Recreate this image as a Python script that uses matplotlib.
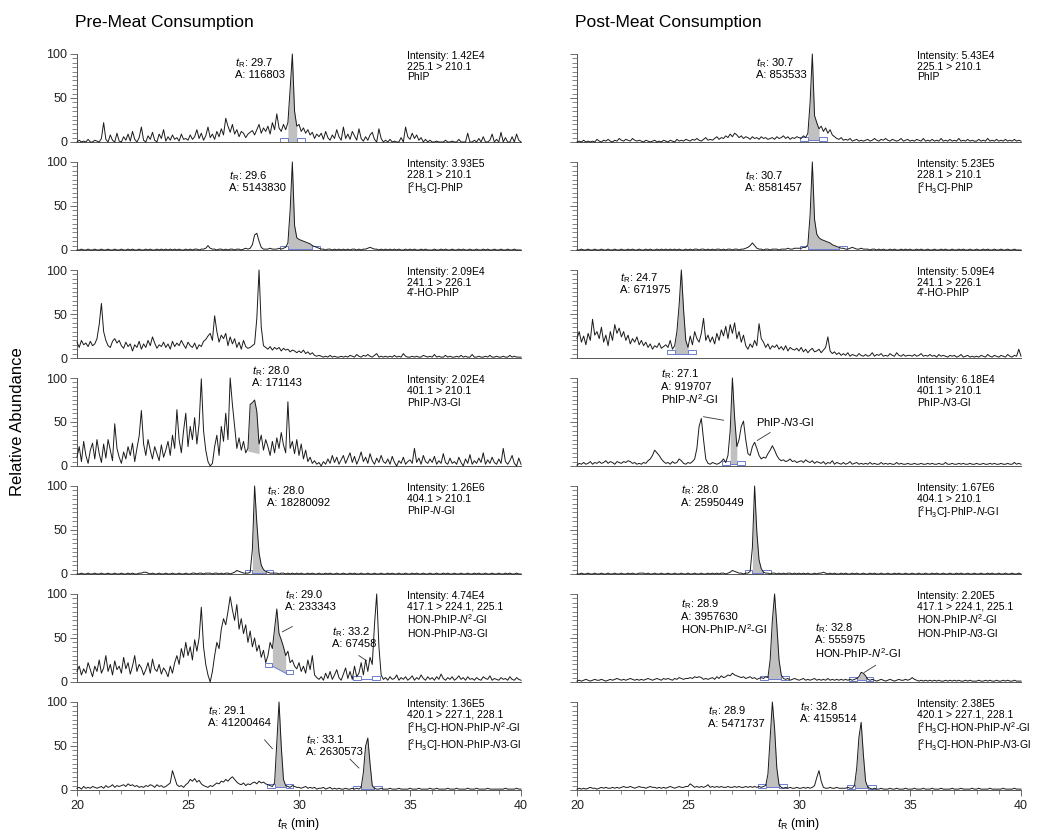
import matplotlib
matplotlib.use("Agg")
import matplotlib.pyplot as plt
import numpy as np
from matplotlib.patches import Rectangle
from matplotlib.ticker import MultipleLocator

plt.rcParams['font.family'] = ['Liberation Sans', 'DejaVu Sans']
plt.rcParams['mathtext.fontset'] = 'custom'
plt.rcParams['mathtext.rm'] = 'Liberation Sans'
plt.rcParams['mathtext.it'] = 'Liberation Sans:italic'
plt.rcParams['mathtext.bf'] = 'Liberation Sans:bold'

# relative abundance (%), one reading every 0.1 min from 20.0 to 40.0 min
pre_phip = [
    0, 2, 0, 1, 0, 3, 0, 0, 2, 1,
    0, 4, 22, 3, 0, 8, 2, 0, 10, 1,
    0, 6, 2, 9, 1, 12, 3, 0, 5, 17,
    2, 0, 7, 3, 11, 2, 0, 9, 4, 14,
    1, 6, 2, 8, 3, 5, 1, 9, 3, 4,
    2, 8, 3, 6, 14, 4, 10, 2, 7, 17,
    5, 9, 3, 12, 6, 15, 8, 27, 18, 11,
    20, 9, 14, 6, 12, 10, 5, 9, 11, 13,
    8, 14, 20, 10, 16, 12, 18, 9, 22, 14,
    32, 16, 12, 20, 14, 22, 60, 100, 35, 18,
    20, 12, 16, 10, 14, 8, 11, 4, 9, 6,
    10, 3, 12, 5, 2, 8, 4, 14, 6, 2,
    17, 4, 9, 3, 12, 7, 2, 15, 4, 1,
    6, 2, 8, 11, 3, 0, 15, 4, 0, 2,
    0, 3, 0, 1, 0, 0, 5, 0, 17, 6,
    3, 10, 4, 8, 2, 5, 0, 3, 0, 2,
    0, 0, 1, 0, 0, 0, 2, 0, 0, 1,
    0, 0, 3, 0, 0, 0, 10, 0, 0, 2,
    0, 4, 0, 6, 0, 0, 2, 9, 0, 3,
    0, 11, 0, 5, 0, 0, 6, 0, 9, 2,
    0]

pre_d3_phip = [
    0, 0, 1, 0, 0, 1, 0, 0, 1, 0,
    0, 1, 0, 0, 1, 0, 0, 1, 0, 0,
    1, 0, 0, 1, 0, 1, 0, 0, 1, 0,
    0, 1, 0, 1, 0, 0, 1, 0, 1, 0,
    1, 0, 1, 0, 1, 0, 1, 0, 0, 1,
    0, 1, 0, 1, 1, 0, 1, 1, 2, 5,
    2, 1, 1, 0, 1, 1, 0, 1, 0, 1,
    1, 0, 1, 1, 0, 1, 2, 1, 2, 6,
    17, 19, 10, 3, 1, 1, 1, 2, 1, 1,
    1, 2, 1, 2, 3, 8, 45, 100, 28, 14,
    12, 11, 10, 9, 8, 7, 5, 4, 3, 2,
    1, 1, 0, 1, 1, 0, 1, 0, 1, 0,
    1, 0, 1, 0, 1, 1, 0, 1, 0, 1,
    1, 2, 3, 2, 1, 1, 0, 1, 0, 1,
    0, 1, 0, 1, 0, 1, 0, 0, 1, 0,
    1, 0, 1, 0, 0, 1, 0, 1, 0, 0,
    0, 1, 0, 0, 1, 0, 1, 0, 0, 1,
    0, 0, 1, 0, 1, 0, 0, 1, 0, 0,
    1, 0, 0, 1, 0, 1, 0, 0, 1, 0,
    0, 1, 0, 0, 1, 0, 0, 1, 0, 0,
    0]

pre_ho_phip = [
    18, 12, 20, 15, 17, 13, 19, 14, 16, 22,
    38, 62, 30, 20, 14, 12, 19, 22, 17, 20,
    14, 11, 18, 13, 16, 8, 15, 12, 19, 10,
    16, 12, 20, 14, 24, 17, 11, 15, 13, 18,
    12, 16, 10, 19, 13, 17, 14, 20, 15, 11,
    18, 14, 12, 17, 10, 15, 13, 19, 21, 25,
    28, 20, 48, 30, 18, 26, 22, 28, 14, 24,
    16, 22, 12, 18, 10, 20, 13, 11, 12, 14,
    16, 45, 100, 35, 14, 12, 10, 13, 9, 12,
    10, 12, 8, 11, 9, 10, 7, 9, 8, 6,
    8, 6, 9, 5, 7, 4, 6, 3, 2, 3,
    2, 1, 2, 1, 3, 1, 2, 1, 1, 2,
    1, 2, 1, 3, 2, 1, 4, 2, 1, 3,
    2, 4, 2, 1, 3, 5, 1, 2, 1, 2,
    1, 2, 1, 3, 1, 2, 1, 5, 2, 1,
    1, 2, 1, 2, 1, 1, 3, 2, 1, 2,
    1, 4, 1, 2, 1, 1, 3, 1, 2, 1,
    1, 2, 1, 3, 1, 2, 1, 1, 4, 1,
    1, 2, 1, 1, 2, 1, 3, 1, 1, 2,
    1, 1, 2, 1, 1, 3, 1, 2, 1, 1,
    1]

pre_n3_gl = [
    10, 22, 5, 28, 12, 3, 18, 26, 8, 30,
    14, 4, 25, 9, 30, 18, 6, 48, 20, 10,
    3, 16, 8, 22, 12, 26, 5, 20, 34, 63,
    25, 12, 30, 18, 8, 22, 14, 6, 24, 10,
    18, 28, 12, 35, 20, 64, 30, 15, 40, 60,
    22, 45, 30, 55, 25, 48, 99, 40, 18, 5,
    0, 3, 22, 35, 12, 45, 28, 60, 30, 100,
    70, 45, 20, 32, 18, 28, 15, 20, 70, 72,
    75, 62, 25, 35, 18, 30, 22, 12, 28, 15,
    32, 20, 38, 24, 15, 73, 20, 28, 14, 30,
    12, 25, 8, 18, 5, 10, 3, 6, 2, 4,
    0, 5, 2, 8, 3, 12, 4, 10, 2, 7,
    12, 3, 9, 15, 4, 11, 2, 8, 16, 5,
    10, 3, 14, 6, 2, 9, 4, 12, 5, 3,
    8, 2, 11, 4, 0, 6, 3, 10, 2, 5,
    7, 3, 20, 4, 9, 2, 12, 5, 3, 8,
    4, 11, 2, 6, 3, 14, 4, 2, 9, 3,
    5, 2, 10, 4, 0, 8, 3, 13, 2, 6,
    3, 9, 4, 15, 2, 7, 3, 10, 4, 2,
    8, 3, 20, 5, 2, 6, 12, 3, 0, 9,
    2]

pre_n_gl = [
    0, 0, 1, 0, 0, 1, 0, 0, 1, 0,
    0, 1, 0, 0, 1, 0, 0, 1, 0, 0,
    1, 0, 0, 1, 0, 1, 0, 0, 1, 1,
    2, 2, 1, 0, 1, 0, 0, 1, 0, 0,
    1, 0, 0, 1, 0, 0, 1, 0, 0, 1,
    0, 0, 1, 1, 0, 1, 1, 0, 1, 1,
    1, 0, 1, 1, 0, 1, 0, 1, 1, 0,
    1, 2, 4, 3, 2, 1, 1, 1, 2, 28,
    100, 58, 24, 10, 5, 3, 2, 1, 1, 1,
    1, 0, 1, 1, 0, 1, 0, 1, 0, 1,
    0, 1, 0, 0, 1, 0, 1, 0, 0, 1,
    0, 0, 1, 0, 1, 0, 0, 1, 0, 0,
    1, 0, 0, 1, 0, 1, 0, 0, 1, 0,
    0, 1, 0, 0, 1, 0, 0, 1, 0, 0,
    1, 0, 1, 0, 0, 1, 0, 0, 1, 0,
    0, 1, 0, 1, 0, 0, 1, 0, 0, 1,
    0, 0, 1, 0, 0, 1, 0, 1, 0, 0,
    1, 0, 0, 1, 0, 0, 1, 0, 0, 1,
    0, 1, 0, 0, 1, 0, 0, 1, 0, 0,
    1, 0, 0, 1, 0, 1, 0, 0, 1, 0,
    0]

pre_hon_gl = [
    12, 18, 8, 15, 10, 22, 14, 6, 18, 12,
    25, 10, 16, 30, 12, 20, 8, 24, 14, 18,
    10, 28, 15, 22, 9, 18, 30, 12, 20, 16,
    8, 14, 22, 10, 26, 15, 12, 20, 9, 16,
    12, 6, 18, 10, 22, 30, 20, 38, 28, 45,
    30, 40, 25, 48, 35, 50, 85, 40, 20, 8,
    0, 12, 30, 45, 38, 60, 72, 65, 80, 97,
    82, 70, 88, 60, 72, 55, 65, 45, 58, 40,
    50, 35, 42, 28, 36, 22, 30, 45, 38, 60,
    83, 55, 48, 40, 30, 35, 22, 25, 18, 15,
    22, 12, 18, 10, 25, 14, 30, 8, 5, 3,
    6, 2, 10, 4, 12, 3, 8, 14, 5, 2,
    9, 16, 4, 12, 3, 18, 6, 10, 22, 8,
    25, 12, 28, 20, 65, 100, 40, 8, 3, 5,
    2, 6, 3, 4, 8, 2, 5, 3, 6, 2,
    4, 7, 2, 5, 3, 8, 4, 2, 6, 3,
    5, 2, 6, 3, 9, 4, 2, 5, 3, 6,
    2, 4, 7, 3, 5, 2, 6, 3, 4, 2,
    5, 3, 2, 6, 4, 3, 7, 2, 4, 3,
    2, 5, 3, 4, 2, 6, 3, 2, 5, 3,
    2]

pre_d3_hon_gl = [
    2, 3, 1, 4, 2, 3, 2, 4, 3, 2,
    3, 4, 2, 5, 3, 4, 6, 3, 5, 4,
    5, 6, 4, 7, 5, 6, 4, 5, 3, 4,
    3, 5, 4, 6, 5, 3, 6, 4, 5, 3,
    4, 6, 8, 22, 14, 6, 4, 5, 3, 6,
    8, 12, 10, 13, 9, 11, 7, 5, 4, 3,
    5, 4, 6, 8, 7, 10, 9, 12, 10, 13,
    15, 12, 9, 7, 6, 8, 5, 7, 6, 8,
    9, 7, 10, 8, 9, 7, 6, 5, 4, 8,
    55, 100, 50, 12, 5, 4, 3, 5, 4, 3,
    3, 2, 3, 4, 2, 3, 2, 3, 1, 2,
    2, 3, 1, 2, 3, 1, 2, 1, 2, 1,
    1, 2, 1, 1, 2, 1, 2, 1, 3, 20,
    50, 59, 30, 5, 2, 1, 1, 2, 1, 1,
    1, 2, 1, 1, 1, 2, 1, 1, 1, 1,
    2, 1, 1, 1, 2, 1, 1, 1, 1, 2,
    1, 1, 2, 1, 1, 1, 1, 2, 1, 1,
    1, 2, 1, 1, 1, 1, 2, 1, 1, 1,
    2, 1, 1, 1, 1, 2, 1, 1, 1, 1,
    1, 1, 1, 2, 1, 1, 1, 1, 2, 1,
    1]

post_phip = [
    0, 1, 0, 2, 0, 1, 0, 1, 0, 3,
    1, 0, 2, 1, 3, 1, 0, 2, 1, 4,
    2, 1, 3, 2, 1, 4, 2, 1, 2, 1,
    0, 2, 1, 0, 1, 2, 0, 1, 0, 2,
    1, 0, 2, 1, 0, 3, 1, 2, 1, 3,
    2, 1, 3, 2, 4, 2, 1, 3, 5, 2,
    3, 2, 4, 6, 3, 5, 4, 7, 5, 9,
    6, 10, 8, 5, 7, 4, 6, 5, 3, 6,
    4, 5, 3, 6, 4, 5, 3, 4, 5, 3,
    6, 4, 5, 7, 4, 6, 3, 5, 4, 6,
    5, 4, 7, 5, 10, 45, 100, 30, 22, 15,
    18, 12, 16, 10, 14, 8, 6, 4, 3, 5,
    2, 3, 2, 4, 1, 2, 3, 1, 2, 1,
    2, 3, 1, 2, 4, 2, 1, 3, 2, 4,
    2, 1, 3, 2, 1, 2, 4, 1, 2, 3,
    1, 2, 1, 3, 2, 1, 4, 1, 2, 1,
    3, 1, 2, 1, 4, 1, 2, 1, 3, 1,
    2, 1, 4, 1, 2, 1, 3, 1, 2, 1,
    1, 3, 1, 2, 1, 4, 1, 2, 1, 3,
    1, 2, 1, 3, 1, 2, 1, 3, 1, 2,
    1]

post_d3_phip = [
    0, 0, 1, 0, 0, 1, 0, 0, 1, 0,
    0, 1, 0, 0, 1, 0, 0, 1, 0, 0,
    1, 0, 0, 1, 0, 1, 0, 0, 1, 0,
    0, 1, 0, 1, 0, 0, 1, 0, 1, 0,
    1, 0, 1, 0, 1, 0, 1, 0, 0, 1,
    0, 1, 0, 1, 1, 0, 1, 1, 0, 1,
    0, 1, 0, 1, 1, 0, 1, 0, 1, 1,
    0, 1, 1, 0, 1, 1, 2, 3, 5, 8,
    5, 2, 1, 1, 0, 1, 1, 0, 1, 1,
    1, 0, 1, 1, 1, 2, 1, 1, 2, 2,
    2, 2, 3, 3, 6, 40, 100, 35, 18, 14,
    12, 11, 10, 9, 8, 6, 5, 4, 3, 2,
    2, 1, 1, 2, 3, 2, 1, 1, 2, 1,
    1, 1, 0, 1, 1, 0, 1, 0, 1, 0,
    0, 1, 0, 1, 0, 0, 1, 0, 1, 0,
    1, 0, 0, 1, 0, 1, 0, 0, 1, 0,
    0, 1, 0, 0, 1, 0, 1, 0, 0, 1,
    0, 0, 1, 0, 1, 0, 0, 1, 0, 0,
    1, 0, 0, 1, 0, 1, 0, 0, 1, 0,
    0, 1, 0, 0, 1, 0, 0, 1, 0, 0,
    0]

post_ho_phip = [
    22, 30, 18, 25, 15, 28, 20, 44, 26, 30,
    22, 35, 18, 26, 14, 30, 20, 38, 28, 34,
    24, 30, 20, 26, 16, 22, 18, 24, 15, 20,
    14, 18, 12, 16, 10, 14, 12, 17, 11, 13,
    15, 12, 20, 10, 14, 30, 60, 100, 55, 20,
    12, 25, 15, 30, 22, 18, 28, 45, 20, 26,
    18, 24, 16, 28, 20, 32, 25, 36, 22, 38,
    28, 40, 22, 30, 18, 26, 14, 10, 16, 12,
    20, 14, 39, 22, 18, 12, 16, 10, 14, 12,
    15, 10, 13, 9, 14, 8, 12, 10, 9, 11,
    8, 12, 7, 10, 6, 9, 11, 7, 8, 10,
    6, 9, 12, 24, 8, 5, 7, 4, 6, 3,
    5, 3, 6, 2, 4, 3, 2, 5, 3, 2,
    4, 2, 3, 6, 2, 4, 3, 5, 2, 3,
    2, 5, 3, 2, 6, 3, 2, 4, 2, 3,
    3, 2, 4, 2, 3, 5, 2, 3, 2, 4,
    2, 3, 1, 4, 2, 3, 2, 1, 3, 2,
    3, 1, 2, 4, 1, 2, 3, 1, 2, 1,
    2, 1, 3, 2, 1, 4, 2, 1, 3, 2,
    1, 3, 2, 1, 4, 2, 1, 3, 2, 10,
    2]

post_n3_gl = [
    1, 3, 2, 4, 2, 3, 5, 2, 4, 3,
    5, 3, 4, 6, 3, 5, 4, 2, 5, 4,
    3, 5, 4, 6, 5, 3, 4, 2, 3, 2,
    4, 3, 6, 8, 12, 18, 15, 12, 8, 5,
    3, 4, 2, 5, 3, 4, 8, 6, 3, 2,
    4, 3, 5, 8, 20, 45, 54, 30, 8, 3,
    2, 4, 3, 2, 3, 5, 8, 4, 12, 40,
    100, 55, 22, 30, 45, 51, 30, 14, 12, 22,
    27, 20, 12, 8, 10, 9, 14, 18, 23, 18,
    12, 8, 6, 7, 5, 6, 8, 5, 6, 4,
    5, 6, 4, 7, 5, 4, 6, 3, 5, 4,
    3, 5, 2, 4, 3, 6, 2, 4, 3, 2,
    4, 2, 3, 5, 2, 3, 4, 2, 3, 2,
    3, 2, 4, 2, 3, 2, 2, 4, 2, 3,
    2, 3, 2, 2, 4, 2, 3, 2, 2, 3,
    2, 2, 3, 2, 2, 3, 2, 2, 3, 2,
    3, 2, 2, 3, 2, 2, 4, 2, 2, 3,
    2, 2, 3, 2, 3, 2, 2, 3, 2, 2,
    3, 2, 2, 3, 2, 2, 3, 2, 3, 2,
    2, 3, 2, 2, 3, 2, 2, 4, 2, 3,
    2]

post_d3_n_gl = [
    0, 0, 1, 0, 0, 1, 0, 0, 1, 0,
    0, 1, 0, 0, 1, 0, 0, 1, 0, 0,
    1, 0, 0, 1, 0, 1, 0, 0, 1, 1,
    1, 0, 1, 0, 0, 1, 0, 0, 1, 0,
    0, 1, 0, 0, 1, 0, 0, 1, 0, 0,
    1, 0, 0, 1, 0, 0, 1, 0, 0, 1,
    0, 1, 0, 1, 0, 1, 1, 0, 1, 2,
    4, 3, 2, 1, 1, 0, 1, 1, 3, 30,
    100, 48, 16, 6, 2, 1, 1, 0, 1, 1,
    0, 1, 0, 1, 0, 1, 1, 0, 1, 0,
    1, 0, 1, 0, 1, 0, 0, 1, 0, 1,
    1, 2, 1, 0, 1, 0, 1, 0, 0, 1,
    0, 1, 0, 0, 1, 0, 1, 0, 0, 1,
    0, 0, 1, 0, 1, 0, 0, 1, 0, 0,
    1, 0, 0, 1, 0, 1, 0, 0, 1, 0,
    0, 1, 0, 0, 1, 0, 0, 1, 0, 0,
    1, 0, 1, 0, 0, 1, 0, 0, 1, 0,
    0, 1, 0, 1, 0, 0, 1, 0, 0, 1,
    0, 0, 1, 0, 0, 1, 0, 1, 0, 0,
    1, 0, 0, 1, 0, 0, 1, 0, 0, 1,
    0]

post_hon_gl = [
    1, 2, 1, 2, 3, 2, 1, 2, 3, 2,
    2, 3, 2, 1, 2, 3, 2, 3, 4, 3,
    2, 3, 2, 3, 4, 3, 2, 3, 2, 3,
    2, 3, 4, 3, 2, 3, 4, 3, 2, 4,
    3, 4, 3, 2, 4, 3, 5, 4, 3, 4,
    4, 5, 4, 6, 5, 6, 5, 3, 4, 3,
    4, 5, 3, 6, 4, 7, 5, 6, 8, 7,
    10, 8, 7, 6, 5, 6, 4, 5, 6, 4,
    5, 3, 4, 5, 4, 6, 5, 25, 70, 100,
    65, 25, 8, 4, 3, 4, 2, 3, 4, 3,
    2, 3, 4, 2, 3, 2, 3, 4, 2, 3,
    2, 3, 2, 4, 2, 3, 2, 3, 2, 3,
    2, 3, 2, 3, 2, 3, 4, 6, 11, 10,
    7, 3, 2, 3, 2, 1, 2, 3, 2, 1,
    2, 3, 2, 1, 2, 3, 2, 2, 3, 2,
    3, 5, 3, 2, 1, 2, 1, 2, 1, 2,
    1, 2, 1, 2, 1, 1, 2, 1, 2, 1,
    2, 1, 2, 1, 1, 2, 1, 2, 1, 1,
    1, 2, 1, 1, 2, 1, 2, 1, 1, 2,
    1, 1, 2, 1, 2, 1, 1, 2, 1, 1,
    1]

post_d3_hon_gl = [
    1, 2, 1, 2, 1, 2, 3, 2, 2, 1,
    2, 3, 2, 3, 2, 2, 3, 2, 3, 2,
    3, 4, 3, 3, 4, 3, 2, 3, 4, 3,
    3, 2, 3, 4, 3, 3, 2, 3, 2, 3,
    2, 3, 4, 3, 2, 3, 4, 3, 3, 4,
    4, 7, 5, 3, 4, 3, 4, 3, 4, 6,
    3, 4, 3, 4, 3, 4, 3, 3, 4, 3,
    3, 4, 3, 4, 3, 3, 4, 3, 4, 3,
    4, 3, 4, 3, 4, 5, 18, 60, 100, 70,
    25, 6, 3, 2, 3, 2, 3, 2, 2, 3,
    2, 2, 3, 2, 3, 2, 3, 5, 14, 22,
    10, 3, 2, 2, 3, 2, 2, 3, 2, 2,
    2, 2, 3, 2, 2, 5, 25, 60, 77, 40,
    10, 3, 2, 1, 2, 1, 1, 2, 1, 1,
    1, 2, 1, 1, 2, 1, 1, 1, 2, 1,
    1, 1, 2, 1, 1, 1, 2, 1, 1, 1,
    2, 1, 1, 1, 2, 1, 1, 1, 1, 2,
    1, 1, 1, 2, 1, 1, 1, 1, 2, 1,
    1, 2, 1, 1, 1, 1, 2, 1, 1, 1,
    1, 1, 2, 1, 1, 1, 1, 2, 1, 1,
    1]

pre_info = [
    "Intensity: 1.42E4\n225.1 > 210.1\nPhIP",
    "Intensity: 3.93E5\n228.1 > 210.1\n[$^2$H$_3$C]-PhIP",
    "Intensity: 2.09E4\n241.1 > 226.1\n4'-HO-PhIP",
    "Intensity: 2.02E4\n401.1 > 210.1\nPhIP-$N$3-Gl",
    "Intensity: 1.26E6\n404.1 > 210.1\nPhIP-$N$-Gl",
    "Intensity: 4.74E4\n417.1 > 224.1, 225.1\nHON-PhIP-$N^2$-Gl\nHON-PhIP-$N$3-Gl",
    "Intensity: 1.36E5\n420.1 > 227.1, 228.1\n[$^2$H$_3$C]-HON-PhIP-$N^2$-Gl\n[$^2$H$_3$C]-HON-PhIP-$N$3-Gl",
]
post_info = [
    "Intensity: 5.43E4\n225.1 > 210.1\nPhIP",
    "Intensity: 5.23E5\n228.1 > 210.1\n[$^2$H$_3$C]-PhIP",
    "Intensity: 5.09E4\n241.1 > 226.1\n4'-HO-PhIP",
    "Intensity: 6.18E4\n401.1 > 210.1\nPhIP-$N$3-Gl",
    "Intensity: 1.67E6\n404.1 > 210.1\n[$^2$H$_3$C]-PhIP-$N$-Gl",
    "Intensity: 2.20E5\n417.1 > 224.1, 225.1\nHON-PhIP-$N^2$-Gl\nHON-PhIP-$N$3-Gl",
    "Intensity: 2.38E5\n420.1 > 227.1, 228.1\n[$^2$H$_3$C]-HON-PhIP-$N^2$-Gl\n[$^2$H$_3$C]-HON-PhIP-$N$3-Gl",
]

# (retention time, peak area, extra label line)
pre_peaks = [
    [("29.7", "116803", None)],
    [("29.6", "5143830", None)],
    [],
    [("28.0", "171143", None)],
    [("28.0", "18280092", None)],
    [("29.0", "233343", None), ("33.2", "67458", None)],
    [("29.1", "41200464", None), ("33.1", "2630573", None)],
]
post_peaks = [
    [("30.7", "853533", None)],
    [("30.7", "8581457", None)],
    [("24.7", "671975", None)],
    [("27.1", "919707", "PhIP-$N^2$-Gl")],
    [("28.0", "25950449", None)],
    [("28.9", "3957630", "HON-PhIP-$N^2$-Gl"), ("32.8", "555975", "HON-PhIP-$N^2$-Gl")],
    [("28.9", "5471737", None), ("32.8", "4159514", None)],
]
# free-standing peak names
pre_names = [[], [], [], [], [], [], []]
post_names = [[], [], [], [(28.05, 50, "PhIP-$N$3-Gl")], [], [], []]

pre_traces = [pre_phip, pre_d3_phip, pre_ho_phip, pre_n3_gl, pre_n_gl, pre_hon_gl, pre_d3_hon_gl]
post_traces = [post_phip, post_d3_phip, post_ho_phip, post_n3_gl, post_d3_n_gl, post_hon_gl, post_d3_hon_gl]

# layout: label anchor per peak (x, top y), integration windows, leader lines
pre_label_pos = [[(27.1, 98)], [(26.85, 92)], [], [(27.9, 116)], [(28.55, 102)],
                 [(29.35, 107), (31.5, 65)], [(25.9, 98), (30.33, 65)]]
post_label_pos = [[(28.05, 98)], [(27.55, 92)], [(21.95, 99)], [(23.8, 112)], [(24.7, 103)],
                  [(24.68, 96), (30.7, 69)], [(25.9, 97), (30.05, 102)]]

# (start, end, baseline at start, baseline at end, gray fill, blue marks)
pre_integ = [
    [(29.5, 29.9, 0, 0, True, True)],
    [(29.5, 30.6, 1, 1, True, True)],
    [],
    [(27.7, 28.2, 17, 14, True, False)],
    [(27.9, 28.5, 1, 1, True, True)],
    [(28.8, 29.4, 18, 10, True, True), (32.8, 33.3, 3, 3, False, True)],
    [(28.9, 29.4, 3, 3, True, True), (32.8, 33.4, 1, 1, True, True)],
]
post_integ = [
    [(30.4, 30.9, 2, 2, True, True)],
    [(30.4, 31.8, 1, 1, True, True)],
    [(24.4, 25.0, 5, 5, True, True)],
    [(26.9, 27.2, 2, 2, True, True)],
    [(27.9, 28.4, 1, 1, True, True)],
    [(28.6, 29.2, 3, 3, True, True), (32.6, 33.0, 2, 2, True, True)],
    [(28.5, 29.1, 3, 3, True, True), (32.5, 33.1, 2, 2, True, True)],
]
pre_leaders = [[], [], [], [], [], [(29.7, 63, 29.25, 57), (32.7, 30, 33.05, 24)],
               [(28.45, 57, 28.8, 47), (32.3, 35, 32.7, 25)]]
post_leaders = [[], [], [], [(25.7, 56, 26.6, 52), (28.7, 38, 28.12, 29)], [],
                [(33.45, 19, 32.95, 11)], []]

LINE = '#1a1a1a'
FILL = '#c0c0c0'
BLUE = '#6c7cd0'
AXC = '#555555'

fig = plt.figure(figsize=(10.37, 8.33), dpi=100)
W, H = 1037.0, 833.0


def draw_panel(ax, y, info, info_x, peaks, label_pos, names, integ, leaders, left_labels, bottom):
    y = np.asarray(y, dtype=float)
    t = np.linspace(20, 40, len(y))
    for (t0, t1, b0, b1, filled, marks) in integ:
        m = (t >= t0 - 1e-6) & (t <= t1 + 1e-6)
        if filled:
            ax.fill_between(t[m], np.linspace(b0, b1, m.sum()), y[m], color=FILL, lw=0, zorder=1)
        if marks:
            ax.plot([t0, t1], [b0, b1], color=BLUE, lw=0.7, zorder=2)
            ax.add_patch(Rectangle((t0 - 0.35, b0 - 1), 0.35, 5, fill=False, ec=BLUE, lw=0.7, zorder=2))
            ax.add_patch(Rectangle((t1, b1 - 1), 0.35, 5, fill=False, ec=BLUE, lw=0.7, zorder=2))
    ax.plot(t, y, color=LINE, lw=0.7, zorder=3, clip_on=False)

    ax.text(info_x, 103, info, va='top', ha='left', fontsize=7.5, linespacing=1.05)
    for (tr, area, extra), (px, py) in zip(peaks, label_pos):
        s = r"$t_\mathrm{R}$: " + tr + "\nA: " + area
        if extra:
            s += "\n" + extra
        ax.text(px, py, s, va='top', ha='left', fontsize=8, linespacing=1.05)
    for (px, py, s) in names:
        ax.text(px, py, s, va='center', ha='left', fontsize=8)
    for (x0, y0, x1, y1) in leaders:
        ax.plot([x0, x1], [y0, y1], color='#333333', lw=0.6)

    ax.set_xlim(20, 40)
    ax.set_ylim(0, 100)
    for s in ['top', 'right']:
        ax.spines[s].set_visible(False)
    ax.spines['left'].set_color(AXC)
    ax.spines['bottom'].set_color(AXC)
    ax.spines['left'].set_linewidth(0.7)
    ax.spines['bottom'].set_linewidth(0.7)
    ax.set_yticks([0, 50, 100])
    ax.yaxis.set_minor_locator(MultipleLocator(5))
    ax.tick_params(axis='y', which='major', direction='out', length=5, width=0.6,
                   colors=AXC, labelcolor='#222222', labelsize=9, labelleft=left_labels, pad=2)
    ax.tick_params(axis='y', which='minor', direction='out', length=3.5, width=0.5, colors=AXC)
    if bottom:
        ax.set_xticks([20, 25, 30, 35, 40])
        ax.xaxis.set_minor_locator(MultipleLocator(1))
        ax.tick_params(axis='x', which='major', direction='out', length=4, width=0.6,
                       colors=AXC, labelcolor='#222222', labelsize=9, pad=3)
        ax.tick_params(axis='x', which='minor', direction='out', length=3, width=0.5, colors=AXC)
        ax.set_xlabel(r"$t_\mathrm{R}$ (min)", fontsize=9, labelpad=3)
    else:
        ax.set_xticks([])
        ax.tick_params(axis='x', which='both', bottom=False, labelbottom=False)


columns = [
    (77, pre_traces, pre_info, 34.85, pre_peaks, pre_label_pos, pre_names, pre_integ, pre_leaders, True),
    (577, post_traces, post_info, 35.3, post_peaks, post_label_pos, post_names, post_integ, post_leaders, False),
]
for (x_px, traces, infos, info_x, peaks, lpos, names, integ, leaders, left_labels) in columns:
    for i in range(7):
        y0_px = 142 + 108 * i
        ax = fig.add_axes([x_px / W, 1 - y0_px / H, 444 / W, 88 / H])
        draw_panel(ax, traces[i], infos[i], info_x, peaks[i], lpos[i], names[i], integ[i],
                   leaders[i], left_labels, i == 6)

fig.text(75 / W, 1 - 22 / H, "Pre-Meat Consumption", fontsize=12.5, va='center', ha='left')
fig.text(575 / W, 1 - 22 / H, "Post-Meat Consumption", fontsize=12.5, va='center', ha='left')
fig.text(18 / W, 1 - 422 / H, "Relative Abundance", fontsize=12, rotation=90, va='center', ha='center')

fig.savefig("out.png", dpi=100)
